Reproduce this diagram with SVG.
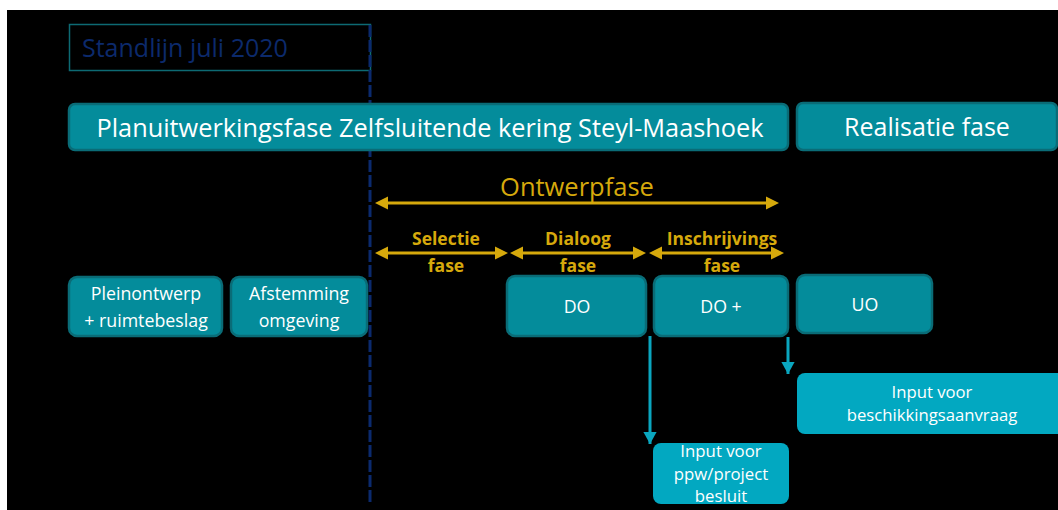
<svg xmlns="http://www.w3.org/2000/svg" width="1058" height="510" viewBox="0 0 1058 510">
  <style>
    .box { fill: #048c9b; stroke: #0a6c77; stroke-width: 2.5; }
    .inp { fill: #02a8c1; }
    .wt { fill: #ffffff; font-family: "Open Sans", "Noto Sans", sans-serif; text-anchor: middle; }
    .gold { fill: #d6a90c; font-family: "Open Sans", "Noto Sans", sans-serif; text-anchor: middle; }
    .sub { font-size: 17.5px; font-weight: bold; }
    .gline { stroke: #d6a90c; stroke-width: 3; fill: none; }
    .cline { stroke: #0aa6bf; stroke-width: 3; fill: none; }
  </style>
  <defs>
    <marker id="gEnd" markerWidth="4.4" markerHeight="4.4" refX="2" refY="2.2" orient="auto" markerUnits="strokeWidth" viewBox="0 0 4.4 4.4">
      <path d="M0,0 L4.4,2.2 L0,4.4 Z" fill="#d6a90c"/>
    </marker>
    <marker id="gStart" markerWidth="4.4" markerHeight="4.4" refX="2.4" refY="2.2" orient="auto" markerUnits="strokeWidth" viewBox="0 0 4.4 4.4">
      <path d="M4.4,0 L0,2.2 L4.4,4.4 Z" fill="#d6a90c"/>
    </marker>
    <marker id="cEnd" markerWidth="4" markerHeight="4.4" refX="4" refY="2.2" orient="auto" markerUnits="strokeWidth" viewBox="0 0 4 4.4">
      <path d="M0,0 L4,2.2 L0,4.4 Z" fill="#0aa6bf"/>
    </marker>
  </defs>

  <rect x="0" y="0" width="1058" height="510" fill="#ffffff"/>
  <rect x="7" y="10" width="1051" height="500" fill="#000000"/>

  <!-- reference date marker -->
  <g id="standlijn">
    <rect x="69.5" y="24.5" width="301" height="46" fill="none" stroke="#0d6a73" stroke-width="1.5"/>
    <text x="82" y="57" font-family="Open Sans, Noto Sans, sans-serif" font-size="25" fill="#0c2a6c">Standlijn juli 2020</text>
    <line x1="370" y1="25" x2="370" y2="505" stroke="#0b2a6e" stroke-width="3" stroke-dasharray="12,3"/>
  </g>

  <g id="planuitwerking">
    <rect class="box" x="69" y="104" width="719" height="46" rx="6"/>
    <text class="wt" x="430" y="137" font-size="25.3">Planuitwerkingsfase Zelfsluitende kering Steyl-Maashoek</text>
  </g>
  <g id="realisatie">
    <rect class="box" x="797" y="103" width="260" height="47" rx="6"/>
    <text class="wt" x="927" y="136" font-size="25">Realisatie fase</text>
  </g>

  <!-- design phase timeline -->
  <g id="ontwerpfase">
    <text class="gold" x="577" y="196" font-size="25.5">Ontwerpfase</text>
    <line class="gline" x1="382" y1="203" x2="772" y2="203" marker-start="url(#gStart)" marker-end="url(#gEnd)"/>
  </g>
  <g id="selectie">
    <text class="gold sub" x="446" y="245">Selectie</text>
    <text class="gold sub" x="446" y="272">fase</text>
    <line class="gline" x1="382" y1="253" x2="501" y2="253" marker-start="url(#gStart)" marker-end="url(#gEnd)"/>
  </g>
  <g id="dialoog">
    <text class="gold sub" x="578" y="245">Dialoog</text>
    <text class="gold sub" x="578" y="272">fase</text>
    <line class="gline" x1="517" y1="253" x2="639" y2="253" marker-start="url(#gStart)" marker-end="url(#gEnd)"/>
  </g>
  <g id="inschrijvings">
    <text class="gold sub" x="722" y="245">Inschrijvings</text>
    <text class="gold sub" x="722" y="272">fase</text>
    <line class="gline" x1="656" y1="253" x2="777" y2="253" marker-start="url(#gStart)" marker-end="url(#gEnd)"/>
  </g>

  <!-- activity blocks -->
  <g id="pleinontwerp">
    <rect class="box" x="69" y="277" width="153" height="59" rx="8"/>
    <text class="wt" x="146" y="300" font-size="17.8">Pleinontwerp</text>
    <text class="wt" x="146" y="327" font-size="17.8">+ ruimtebeslag</text>
  </g>
  <g id="afstemming">
    <rect class="box" x="231" y="277" width="136" height="59" rx="8"/>
    <text class="wt" x="299" y="300" font-size="17.8">Afstemming</text>
    <text class="wt" x="299" y="327" font-size="17.8">omgeving</text>
  </g>
  <g id="do">
    <rect class="box" x="507" y="276" width="139" height="60" rx="8"/>
    <text class="wt" x="577" y="313" font-size="17.8">DO</text>
  </g>
  <g id="doplus">
    <rect class="box" x="654" y="276" width="134" height="60" rx="8"/>
    <text class="wt" x="721" y="313" font-size="17.8">DO +</text>
  </g>
  <g id="uo">
    <rect class="box" x="797" y="275" width="135" height="58" rx="8"/>
    <text class="wt" x="865" y="311" font-size="17.8">UO</text>
  </g>

  <g id="connectors">
    <line class="cline" x1="650" y1="336" x2="650" y2="444" marker-end="url(#cEnd)"/>
    <line class="cline" x1="788" y1="337" x2="788" y2="374" marker-end="url(#cEnd)"/>
  </g>

  <g id="input-beschikking">
    <rect class="inp" x="797" y="373" width="270" height="61" rx="8"/>
    <text class="wt" x="932" y="398" font-size="16.7">Input voor</text>
    <text class="wt" x="932" y="421" font-size="16.7">beschikkingsaanvraag</text>
  </g>
  <g id="input-ppw">
    <rect class="inp" x="653" y="443" width="136" height="61" rx="8"/>
    <text class="wt" x="721" y="457" font-size="16.8">Input voor</text>
    <text class="wt" x="721" y="480" font-size="16.8">ppw/project</text>
    <text class="wt" x="721" y="502" font-size="16.8">besluit</text>
  </g>
</svg>
